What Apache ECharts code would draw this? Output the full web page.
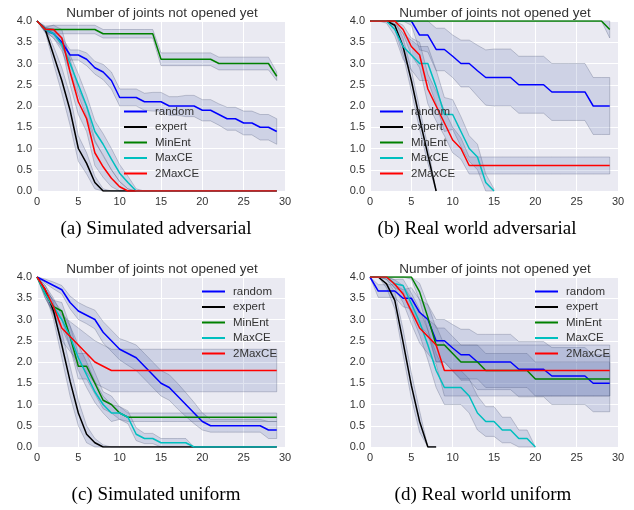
<!DOCTYPE html>
<html>
<head>
<meta charset="utf-8">
<script src="https://cdn.jsdelivr.net/npm/echarts@6/dist/echarts.min.js"></script>
<style>
  html, body { margin: 0; padding: 0; background: #fff; }
  #chart { width: 634px; height: 510px; }
</style>
</head>
<body>
<div id="chart"></div>
<script>
// legend names / colours
const names = ['random', 'expert', 'MinEnt', 'MaxCE', '2MaxCE'];
const colors = ['#0000ff', '#000000', '#008000', '#00bfbf', '#ff0000'];
const title = 'Number of joints not opened yet';
const captions = ['(a) Simulated adversarial', '(b) Real world adversarial', '(c) Simulated uniform', '(d) Real world uniform'];

// (a) simulated adversarial - mean per step, and band half-width
const randA = [4.0, 3.8, 3.7, 3.5, 3.2, 3.2, 3.1, 2.9, 2.8, 2.6, 2.2, 2.2, 2.2, 2.1, 2.1, 2.1, 2.0, 2.0, 2.0, 2.0, 1.9, 1.9, 1.8, 1.7, 1.7, 1.6, 1.6, 1.5, 1.5, 1.4];
const randAErr = [0, 0.05, 0.1, 0.12, 0.12, 0.12, 0.15, 0.15, 0.18, 0.2, 0.2, 0.2, 0.2, 0.2, 0.22, 0.22, 0.22, 0.22, 0.25, 0.25, 0.25, 0.25, 0.25, 0.27, 0.27, 0.28, 0.28, 0.3, 0.3, 0.3];
const expA = [4.0, 3.8, 3.2, 2.6, 1.9, 1.0, 0.65, 0.2, 0, 0, 0, 0, 0, 0, 0, 0, 0, 0, 0, 0, 0, 0, 0, 0, 0, 0, 0, 0, 0, 0];
const expAErr = [0, 0.05, 0.2, 0.3, 0.35, 0.3, 0.25, 0.15, 0.05];
const minA = [4.0, 3.8, 3.8, 3.8, 3.8, 3.8, 3.8, 3.8, 3.7, 3.7, 3.7, 3.7, 3.7, 3.7, 3.7, 3.1, 3.1, 3.1, 3.1, 3.1, 3.1, 3.1, 3.0, 3.0, 3.0, 3.0, 3.0, 3.0, 3.0, 2.7];
const minAErr = [0, 0.08, 0.1, 0.1, 0.1, 0.1, 0.1, 0.1, 0.1, 0.1, 0.1, 0.1, 0.1, 0.1, 0.1, 0.15, 0.15, 0.15, 0.15, 0.15, 0.15, 0.15, 0.15, 0.15, 0.15, 0.15, 0.15, 0.15, 0.15, 0.1];
const maxA = [4.0, 3.8, 3.7, 3.45, 3.0, 2.5, 2.0, 1.4, 1.1, 0.75, 0.42, 0.2, 0, 0, 0, 0, 0, 0, 0, 0, 0, 0, 0, 0, 0, 0, 0, 0, 0, 0];
const maxAErr = [0, 0.05, 0.1, 0.15, 0.2, 0.25, 0.25, 0.25, 0.25, 0.25, 0.2, 0.15, 0.05];
const twoA = [4.0, 3.8, 3.8, 3.6, 2.8, 2.1, 1.7, 0.9, 0.57, 0.3, 0.1, 0, 0, 0, 0, 0, 0, 0, 0, 0, 0, 0, 0, 0, 0, 0, 0, 0, 0, 0];
const twoAErr = [0, 0.05, 0.1, 0.2, 0.3, 0.3, 0.3, 0.3, 0.25, 0.2, 0.12, 0.05];

// (b) real world adversarial
const randB = [4, 4, 4, 4, 4, 4, 3.67, 3.67, 3.33, 3.33, 3.17, 3.0, 3.0, 2.83, 2.67, 2.67, 2.67, 2.67, 2.5, 2.5, 2.5, 2.5, 2.33, 2.33, 2.33, 2.33, 2.33, 2.0, 2.0, 2.0];
const randBErr = [0, 0, 0, 0, 0, 0.1, 0.35, 0.4, 0.5, 0.5, 0.5, 0.55, 0.55, 0.6, 0.65, 0.67, 0.67, 0.67, 0.67, 0.67, 0.67, 0.67, 0.67, 0.67, 0.67, 0.67, 0.67, 0.67, 0.67, 0.67];
const expB = [4, 4, 4, 3.9, 3.4, 2.6, 1.7, 0.85, 0];
const expBErr = [0, 0, 0, 0.1, 0.2, 0.25, 0.25, 0.2, 0];
const minB = [4, 4, 4, 4, 4, 4, 4, 4, 4, 4, 4, 4, 4, 4, 4, 4, 4, 4, 4, 4, 4, 4, 4, 4, 4, 4, 4, 4, 4, 3.8];
const minBErr = [0, 0, 0, 0, 0, 0, 0, 0, 0, 0, 0, 0, 0, 0, 0, 0, 0, 0, 0, 0, 0, 0, 0, 0, 0, 0, 0, 0, 0, 0.2];
const maxB = [4, 4, 4, 3.8, 3.4, 3.2, 3.0, 3.0, 2.45, 1.8, 1.8, 1.4, 1.0, 0.8, 0.2, 0];
const maxBErr = [0, 0, 0.05, 0.15, 0.3, 0.35, 0.4, 0.4, 0.4, 0.4, 0.35, 0.35, 0.3, 0.3, 0.2, 0.05];
const twoB = [4, 4, 4, 4, 3.8, 3.4, 3.2, 2.4, 2.0, 1.6, 1.2, 1.0, 0.6, 0.6, 0.6, 0.6, 0.6, 0.6, 0.6, 0.6, 0.6, 0.6, 0.6, 0.6, 0.6, 0.6, 0.6, 0.6, 0.6, 0.6];
const twoBErr = [0, 0, 0, 0, 0.1, 0.2, 0.3, 0.35, 0.35, 0.3, 0.3, 0.25, 0.2, 0.2, 0.2, 0.2, 0.2, 0.2, 0.2, 0.2, 0.2, 0.2, 0.2, 0.2, 0.2, 0.2, 0.2, 0.2, 0.2, 0.2];

// (c) simulated uniform
const randC = [4.0, 3.9, 3.8, 3.7, 3.4, 3.2, 3.1, 3.0, 2.7, 2.5, 2.3, 2.2, 2.1, 1.9, 1.7, 1.5, 1.4, 1.2, 1.0, 0.8, 0.6, 0.5, 0.5, 0.5, 0.5, 0.5, 0.5, 0.5, 0.4, 0.4];
const randCErr = [0, 0.05, 0.08, 0.1, 0.15, 0.2, 0.2, 0.22, 0.25, 0.25, 0.25, 0.28, 0.3, 0.3, 0.3, 0.3, 0.3, 0.3, 0.28, 0.25, 0.2, 0.15, 0.15, 0.15, 0.15, 0.15, 0.15, 0.15, 0.2, 0.2];
const expC = [4.0, 3.7, 3.2, 2.4, 1.55, 0.8, 0.3, 0.1, 0, 0, 0, 0, 0, 0, 0, 0, 0, 0, 0, 0, 0, 0, 0, 0, 0, 0, 0, 0, 0, 0];
const expCErr = [0, 0.1, 0.2, 0.3, 0.35, 0.3, 0.2, 0.1, 0.05];
const minC = [4.0, 3.6, 3.3, 3.2, 2.6, 1.9, 1.9, 1.5, 1.1, 1.0, 0.8, 0.7, 0.7, 0.7, 0.7, 0.7, 0.7, 0.7, 0.7, 0.7, 0.7, 0.7, 0.7, 0.7, 0.7, 0.7, 0.7, 0.7, 0.7, 0.7];
const minCErr = [0, 0.1, 0.15, 0.2, 0.25, 0.3, 0.3, 0.25, 0.2, 0.2, 0.15, 0.1, 0.1, 0.1, 0.1, 0.1, 0.1, 0.1, 0.1, 0.1, 0.1, 0.1, 0.1, 0.1, 0.1, 0.1, 0.1, 0.1, 0.1, 0.1];
const maxC = [4.0, 3.6, 3.3, 3.0, 2.6, 2.1, 1.7, 1.3, 1.0, 0.8, 0.8, 0.7, 0.3, 0.2, 0.2, 0.1, 0.1, 0.1, 0.1, 0, 0, 0, 0, 0, 0, 0, 0, 0, 0, 0];
const maxCErr = [0, 0.1, 0.15, 0.2, 0.25, 0.3, 0.3, 0.25, 0.2, 0.2, 0.15, 0.15, 0.15, 0.12, 0.12, 0.1, 0.1, 0.1, 0.1];
const twoC = [4.0, 3.7, 3.3, 2.8, 2.6, 2.4, 2.2, 2.0, 1.9, 1.8, 1.8, 1.8, 1.8, 1.8, 1.8, 1.8, 1.8, 1.8, 1.8, 1.8, 1.8, 1.8, 1.8, 1.8, 1.8, 1.8, 1.8, 1.8, 1.8, 1.8];
const twoCErr = [0, 0.1, 0.2, 0.3, 0.35, 0.4, 0.45, 0.5, 0.5, 0.5, 0.5, 0.5, 0.5, 0.5, 0.5, 0.5, 0.5, 0.5, 0.5, 0.5, 0.5, 0.5, 0.5, 0.5, 0.5, 0.5, 0.5, 0.5, 0.5, 0.5];

// (d) real world uniform
const randD = [4.0, 3.67, 3.67, 3.67, 3.5, 3.5, 3.17, 3.0, 2.5, 2.5, 2.33, 2.17, 2.17, 2.0, 2.0, 2.0, 2.0, 2.0, 1.83, 1.83, 1.83, 1.83, 1.67, 1.67, 1.67, 1.67, 1.67, 1.5, 1.5, 1.5];
const randDErr = [0, 0.15, 0.15, 0.15, 0.2, 0.25, 0.3, 0.35, 0.5, 0.5, 0.55, 0.6, 0.6, 0.65, 0.65, 0.65, 0.65, 0.65, 0.65, 0.65, 0.65, 0.65, 0.67, 0.67, 0.67, 0.67, 0.67, 0.67, 0.67, 0.67];
const expD = [4.0, 4.0, 3.84, 3.45, 2.47, 1.45, 0.6, 0, 0];
const expDErr = [0, 0, 0.1, 0.2, 0.3, 0.3, 0.25, 0, 0];
const minD = [4, 4, 4, 4, 4, 4, 3.65, 3.05, 2.4, 2.4, 2.2, 2.0, 2.0, 2.0, 1.8, 1.8, 1.8, 1.8, 1.8, 1.8, 1.6, 1.6, 1.6, 1.6, 1.6, 1.6, 1.6, 1.6, 1.6, 1.6];
const minDErr = [0, 0, 0, 0, 0, 0.05, 0.2, 0.3, 0.4, 0.4, 0.4, 0.4, 0.4, 0.4, 0.4, 0.4, 0.4, 0.4, 0.4, 0.4, 0.4, 0.4, 0.4, 0.4, 0.4, 0.4, 0.4, 0.4, 0.4, 0.4];
const maxD = [4, 4, 4, 3.84, 3.8, 3.37, 2.94, 2.4, 1.8, 1.4, 1.4, 1.4, 1.2, 0.8, 0.6, 0.6, 0.4, 0.4, 0.2, 0.2, 0];
const maxDErr = [0, 0, 0.05, 0.1, 0.15, 0.25, 0.3, 0.35, 0.4, 0.4, 0.4, 0.4, 0.4, 0.4, 0.35, 0.35, 0.3, 0.3, 0.2, 0.2, 0];
const twoD = [4, 4, 4, 3.83, 3.6, 3.2, 2.8, 2.6, 2.4, 1.8, 1.8, 1.8, 1.8, 1.8, 1.8, 1.8, 1.8, 1.8, 1.8, 1.8, 1.8, 1.8, 1.8, 1.8, 1.8, 1.8, 1.8, 1.8, 1.8, 1.8];
const twoDErr = [0, 0, 0.05, 0.1, 0.2, 0.3, 0.35, 0.4, 0.45, 0.6, 0.6, 0.6, 0.6, 0.6, 0.6, 0.6, 0.6, 0.6, 0.6, 0.6, 0.6, 0.6, 0.6, 0.6, 0.6, 0.6, 0.6, 0.6, 0.6, 0.6];

const yTicks = { min: 0, max: 4, interval: 0.5 };
const xTicks = { min: 0, max: 30, interval: 5 };

const panels = [
  { left: 37, top: 21, mean: [randA, expA, minA, maxA, twoA], err: [randAErr, expAErr, minAErr, maxAErr, twoAErr], legend: [119, 100] },
  { left: 370, top: 21, mean: [randB, expB, minB, maxB, twoB], err: [randBErr, expBErr, minBErr, maxBErr, twoBErr], legend: [375, 100] },
  { left: 37, top: 277, mean: [randC, expC, minC, maxC, twoC], err: [randCErr, expCErr, minCErr, maxCErr, twoCErr], legend: [197, 280] },
  { left: 370, top: 277, mean: [randD, expD, minD, maxD, twoD], err: [randDErr, expDErr, minDErr, maxDErr, twoDErr], legend: [530, 280] }
];
const W = 248, H = 170;
const font = 'Liberation Sans';

const grid = [], xAxis = [], yAxis = [], legend = [], series = [], graphic = [];

panels.forEach((p, k) => {
  grid.push({ left: p.left, top: p.top, width: W, height: H, show: true, backgroundColor: '#eaeaf2', borderWidth: 0 });
  xAxis.push({
    type: 'value', gridIndex: k, min: xTicks.min, max: xTicks.max, interval: xTicks.interval,
    axisLine: { show: false }, axisTick: { show: false },
    splitLine: { lineStyle: { color: '#fff', width: 1 } },
    axisLabel: { fontFamily: font, fontSize: 11, color: '#333', margin: 5 }
  });
  yAxis.push({
    type: 'value', gridIndex: k, min: yTicks.min, max: yTicks.max, interval: yTicks.interval,
    axisLine: { show: false }, axisTick: { show: false },
    splitLine: { lineStyle: { color: '#fff', width: 1 } },
    axisLabel: { fontFamily: font, fontSize: 11, color: '#333', margin: 5, formatter: v => v.toFixed(1) }
  });

  // confidence bands first
  p.mean.forEach((m, s) => {
    const e = p.err[s];
    series.push({
      type: 'custom', name: 'band' + k + s, xAxisIndex: k, yAxisIndex: k, silent: true, z: 1,
      data: [[0, m[0]]],
      renderItem: (params, api) => {
        const pts = [];
        for (let i = 0; i < m.length; i++) pts.push(api.coord([i, Math.min(4, m[i] + (e[i] || 0))]));
        for (let i = m.length - 1; i >= 0; i--) pts.push(api.coord([i, Math.max(0, m[i] - (e[i] || 0))]));
        return {
          type: 'polygon', shape: { points: pts },
          style: { fill: 'rgba(70,95,165,0.17)', stroke: 'rgba(80,90,120,0.3)', lineWidth: 1 }
        };
      }
    });
  });
  p.mean.forEach((m, s) => {
    series.push({
      type: 'line', name: names[s], xAxisIndex: k, yAxisIndex: k, z: 3,
      data: m.map((v, i) => [i, v]),
      showSymbol: false, symbol: 'none',
      lineStyle: { color: colors[s], width: 1.5 },
      itemStyle: { color: colors[s] }
    });
  });

  legend.push({
    left: p.legend[0], top: p.legend[1], orient: 'vertical',
    data: names, icon: 'rect', itemWidth: 23, itemHeight: 2, itemGap: 2.5,
    textStyle: { fontFamily: font, fontSize: 11.5, color: '#333', lineHeight: 13, padding: [0, 0, 0, 3] },
    selectedMode: false
  });

  graphic.push({
    type: 'text', x: p.left + W / 2 + 1, y: p.top - 8,
    style: { text: title, fontFamily: font, fontSize: 13.5, fill: '#333', textAlign: 'center', textVerticalAlign: 'middle' }
  });
});

const capPos = [[156, 229], [477, 229], [156, 495], [483, 495]];
captions.forEach((c, k) => {
  graphic.push({
    type: 'text', x: capPos[k][0], y: capPos[k][1],
    style: { text: c, fontFamily: 'Liberation Serif', fontSize: 19, fill: '#000', textAlign: 'center', textVerticalAlign: 'middle' }
  });
});

const chart = echarts.init(document.getElementById('chart'));
chart.setOption({
  animation: false,
  backgroundColor: '#fff',
  grid, xAxis, yAxis, legend, series, graphic
});
</script>
</body>
</html>
